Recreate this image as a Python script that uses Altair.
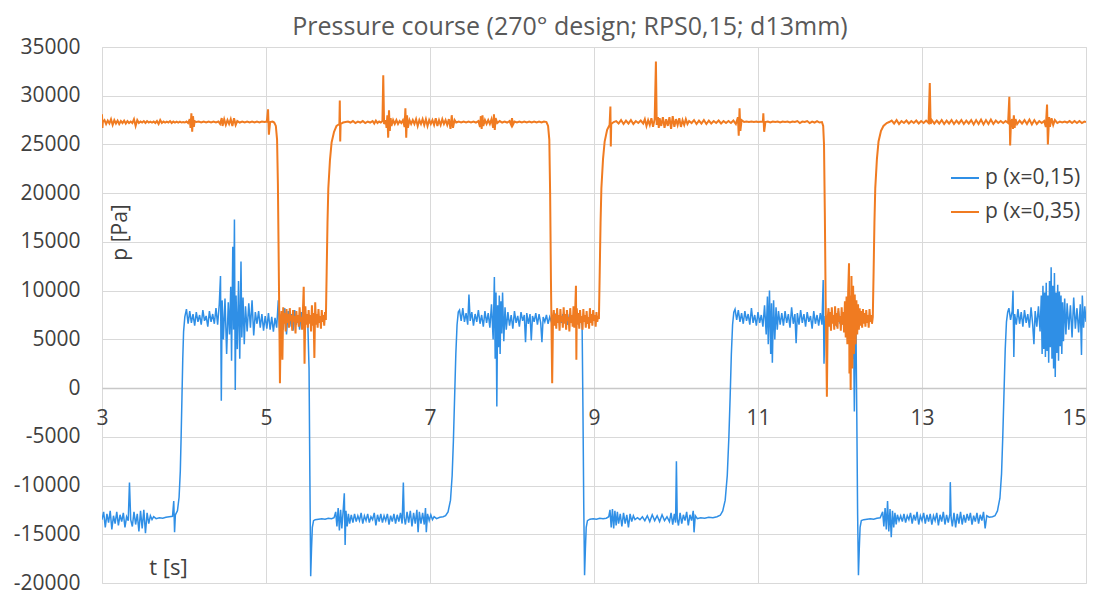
import altair as alt
import pandas as pd

TITLE = "Pressure course (270\u00b0 design; RPS0,15; d13mm)"
series_names = ["p (x=0,15)", "p (x=0,35)"]
series_colors = ["#2f8fe6", "#f07b21"]
x_ticks = [3, 5, 7, 9, 11, 13, 15]
y_ticks = [-20000, -15000, -10000, -5000, 0, 5000, 10000, 15000, 20000, 25000, 30000, 35000]

# ---- p (x=0,15): (t [s], p [Pa]) ----
blue_low_1 = [(3.00,-13500),(3.02,-12700),(3.04,-14300),(3.06,-12900),(3.08,-13800),(3.10,-12600),(3.12,-14500),(3.14,-13100),(3.16,-13900),(3.18,-12700),(3.20,-14100),(3.22,-13000),(3.24,-13700),(3.26,-12800),(3.28,-14300),(3.30,-13200),(3.32,-13600),(3.335,-9700),(3.35,-13500),(3.37,-14200),(3.39,-12700),(3.41,-14000),(3.43,-12900),(3.45,-14700),(3.47,-12600),(3.49,-14400),(3.51,-12500),(3.53,-14900),(3.55,-12800),(3.57,-13900),(3.59,-13100),(3.61,-13500),(3.63,-13200),(3.66,-13400),(3.70,-13300),(3.74,-13350),(3.78,-13250),(3.82,-13200),(3.86,-13150),(3.875,-11600),(3.885,-14800),(3.895,-13000),
              (3.92,-12600),(3.94,-11200),(3.955,-8500),(3.965,-5000),(3.975,-1000),(3.985,3000),(3.995,5800),(4.01,7300),(4.03,8100)]
blue_high_1 = [(4.05,6600),(4.07,7900),(4.09,6700),(4.11,7600),(4.13,6400),(4.15,7800),(4.17,6800),(4.19,7500),(4.21,6500),(4.23,8000),(4.25,6900),(4.27,7400),(4.29,6300),(4.31,7900),(4.33,6800),(4.35,7600),(4.37,6600),(4.39,8200),(4.41,6500),(4.43,8600),(4.445,11500),(4.455,-1300),(4.465,9000),(4.48,5000),(4.50,9200),(4.52,3500),(4.54,8800),(4.555,5500),(4.57,10400),(4.58,2800),(4.595,14500),(4.605,6000),(4.615,17300),(4.625,-200),(4.635,9500),(4.65,4000),(4.665,11000),(4.68,3000),(4.695,13000),(4.705,5200),(4.72,9300),(4.735,4500),(4.75,8400),(4.77,5800),(4.79,8700),(4.81,6200),(4.83,9000),(4.85,5400),(4.87,7800),(4.89,6600),(4.91,7900),(4.93,6200),(4.95,7600),(4.97,5900),(4.99,7400),(5.01,6100),(5.03,7700),(5.05,6000),(5.07,7300),(5.09,5800),(5.11,7200),(5.13,6200),(5.15,9000),(5.17,5200),(5.19,7600),(5.21,6000),(5.23,8200),(5.25,5500),(5.27,7900),(5.29,6300),(5.31,7600),(5.33,5900),(5.35,8000),(5.37,6500),(5.39,7400),(5.41,6000),(5.43,7800),(5.45,6400),(5.47,7200),(5.49,6800),(5.51,6600),
               (5.525,2000),(5.535,-9000),(5.545,-19300),(5.555,-16500),(5.565,-14300),(5.58,-13600),(5.60,-13500)]
blue_low_2 = [(5.64,-13450),(5.68,-13400),(5.72,-13450),(5.76,-13350),(5.80,-13400),(5.83,-13300),(5.85,-12700),(5.865,-14200),(5.88,-12300),(5.895,-14600),(5.91,-12500),(5.925,-14400),(5.94,-12700),(5.955,-10800),(5.965,-16100),(5.975,-12600),(5.99,-14200),(6.005,-12900),(6.02,-13900),(6.04,-13000),(6.06,-13800),(6.08,-12900),(6.10,-13700),(6.12,-13100),(6.14,-13600),(6.16,-12800),(6.18,-13900),(6.20,-13100),(6.22,-13600),(6.24,-12900),(6.26,-13800),(6.28,-13200),(6.30,-13500),(6.32,-12800),(6.34,-14100),(6.36,-13000),(6.38,-13700),(6.40,-12900),(6.42,-13800),(6.44,-13100),(6.46,-13600),(6.48,-12900),(6.50,-14000),(6.52,-13100),(6.54,-13700),(6.56,-12900),(6.58,-13900),(6.60,-13000),(6.62,-13700),(6.64,-12800),(6.66,-13900),(6.675,-9700),(6.685,-13300),(6.70,-14000),(6.72,-12700),(6.74,-13800),(6.76,-12600),(6.78,-14200),(6.80,-12800),(6.82,-13900),(6.84,-12500),(6.855,-14800),(6.87,-12700),(6.89,-13900),(6.91,-12800),(6.93,-14000),(6.945,-12300),(6.955,-14800),(6.97,-12900),(6.99,-13600),(7.01,-13000),(7.03,-13500),(7.05,-13200),(7.08,-13400),(7.12,-13250),(7.16,-13200),(7.19,-13100),
              (7.22,-12700),(7.25,-11500),(7.27,-9000),(7.285,-5500),(7.30,-1000),(7.315,3500),(7.33,6500),(7.345,7800),(7.36,8000)]
blue_high_2 = [(7.38,6900),(7.40,8200),(7.42,6800),(7.44,7700),(7.46,6500),(7.475,9600),(7.49,6900),(7.51,7800),(7.53,6400),(7.55,7600),(7.57,6800),(7.59,8000),(7.61,6600),(7.63,7500),(7.65,6300),(7.67,7900),(7.69,6700),(7.71,7700),(7.73,6200),(7.75,8600),(7.77,5000),(7.785,11400),(7.795,3000),(7.805,9800),(7.815,-1900),(7.825,8500),(7.835,4200),(7.845,9500),(7.855,3500),(7.865,8900),(7.875,5600),(7.885,9800),(7.90,4800),(7.915,8300),(7.93,6000),(7.95,7800),(7.97,6400),(7.99,7500),(8.01,6100),(8.03,7900),(8.05,6700),(8.07,7400),(8.09,6300),(8.11,7800),(8.13,6900),(8.15,7500),(8.165,4700),(8.18,7700),(8.20,6600),(8.22,7600),(8.235,4900),(8.25,7400),(8.27,6800),(8.29,7700),(8.31,6500),(8.33,7600),(8.35,6700),(8.365,4700),(8.38,7300),(8.40,6800),(8.42,7500),(8.44,6600),(8.46,7300),(8.48,6800),(8.50,7400),(8.52,6500),(8.54,7700),(8.56,6900),(8.58,7300),(8.60,6700),(8.62,7600),(8.64,6800),(8.66,7400),(8.68,6500),(8.70,7600),(8.72,6900),(8.74,7300),(8.76,6600),(8.78,7500),(8.80,6800),(8.82,7200),(8.84,6900),(8.855,6500),
               (8.865,-2000),(8.875,-12000),(8.885,-19200),(8.895,-16500),(8.905,-14300),(8.92,-13600),(8.95,-13450)]
blue_low_3 = [(8.99,-13400),(9.03,-13450),(9.07,-13350),(9.11,-13400),(9.15,-13350),(9.18,-13200),(9.195,-12500),(9.21,-14300),(9.225,-12400),(9.24,-14400),(9.255,-12600),(9.27,-14100),(9.285,-12700),(9.30,-13900),(9.32,-12900),(9.34,-14200),(9.36,-12800),(9.38,-13900),(9.40,-13000),(9.42,-14300),(9.44,-12900),(9.46,-13700),(9.48,-13100),(9.50,-13500),(9.53,-13300),(9.56,-13500),(9.59,-13200),(9.62,-13600),(9.65,-13100),(9.68,-13700),(9.71,-13000),(9.74,-13600),(9.77,-13100),(9.80,-13700),(9.83,-13000),(9.86,-13600),(9.89,-13200),(9.92,-13700),(9.94,-12800),(9.96,-14000),(9.98,-12900),(9.995,-13800),(10.005,-7500),(10.015,-13400),(10.03,-14100),(10.05,-12800),(10.07,-13900),(10.09,-13000),(10.11,-13600),(10.13,-12700),(10.15,-14100),(10.17,-13000),(10.19,-13600),(10.21,-12600),(10.22,-14800),(10.235,-13100),(10.26,-13400),(10.30,-13300),(10.35,-13350),(10.40,-13250),(10.45,-13300),(10.50,-13200),(10.54,-13050),
              (10.57,-12600),(10.60,-11500),(10.625,-9000),(10.645,-5000),(10.66,-1000),(10.675,3500),(10.69,6500),(10.705,7800),(10.72,8100)]
blue_high_3 = [(10.74,7000),(10.76,8000),(10.78,6800),(10.80,7700),(10.82,6600),(10.84,7900),(10.86,6900),(10.88,7600),(10.90,6500),(10.92,8200),(10.94,6700),(10.96,7500),(10.98,6400),(11.00,7800),(11.02,6700),(11.04,7500),(11.06,6300),(11.08,8500),(11.10,5500),(11.115,9400),(11.125,4500),(11.14,10000),(11.155,3500),(11.165,8700),(11.175,2600),(11.19,9000),(11.205,5000),(11.22,8300),(11.235,6000),(11.25,7900),(11.27,6500),(11.29,7700),(11.31,6400),(11.33,7900),(11.35,6700),(11.37,7600),(11.39,6200),(11.41,8300),(11.43,6600),(11.45,7600),(11.465,4600),(11.48,7700),(11.50,6500),(11.52,8000),(11.54,6700),(11.56,7600),(11.58,6300),(11.60,7800),(11.62,6800),(11.64,7400),(11.66,6100),(11.68,7900),(11.70,6600),(11.72,7500),(11.74,6400),(11.76,7700),(11.78,6500),(11.795,11100),(11.805,2500),(11.82,7400),(11.84,6600),(11.86,7600),(11.88,6400),(11.90,7800),(11.92,6700),(11.94,7500),(11.96,6300),(11.98,7900),(12.00,6600),(12.02,7400),(12.04,6500),(12.06,7800),(12.08,5800),(12.10,8200),(12.12,4500),(12.14,8800),(12.155,3000),(12.165,6500),(12.175,-2400),(12.185,5000),(12.195,6000),
               (12.205,-3000),(12.215,-13000),(12.225,-19200),(12.235,-16500),(12.245,-14300),(12.26,-13600),(12.29,-13500)]
blue_low_4 = [(12.33,-13450),(12.37,-13400),(12.41,-13450),(12.45,-13350),(12.49,-13300),(12.52,-12700),(12.535,-14200),(12.55,-12300),(12.565,-14500),(12.58,-11600),(12.595,-14700),(12.61,-12400),(12.625,-15300),(12.64,-12600),(12.655,-14300),(12.67,-12800),(12.685,-14000),(12.70,-13000),(12.72,-13600),(12.74,-13100),(12.76,-13700),(12.78,-12900),(12.80,-13800),(12.82,-13100),(12.84,-13500),(12.86,-12800),(12.88,-13900),(12.90,-13000),(12.92,-13600),(12.94,-12700),(12.96,-14000),(12.98,-13100),(13.00,-13600),(13.02,-12800),(13.04,-13900),(13.06,-13000),(13.08,-13700),(13.10,-12900),(13.12,-14000),(13.14,-13100),(13.16,-13600),(13.18,-12800),(13.20,-14100),(13.22,-13000),(13.24,-13700),(13.26,-12700),(13.28,-14000),(13.30,-13000),(13.32,-13800),(13.34,-12900),(13.345,-9650),(13.355,-13300),(13.37,-14200),(13.39,-12800),(13.41,-14300),(13.43,-12900),(13.45,-13900),(13.47,-12700),(13.49,-14000),(13.51,-13000),(13.53,-13800),(13.55,-12900),(13.57,-13600),(13.59,-12800),(13.61,-14000),(13.63,-13100),(13.65,-13700),(13.67,-12800),(13.69,-13900),(13.71,-13000),(13.73,-13600),(13.75,-12700),(13.77,-14400),(13.79,-13100),(13.82,-13250),(13.86,-13200),(13.89,-13100),
              (13.92,-12600),(13.95,-11300),(13.97,-8800),(13.985,-5000),(14.00,-500),(14.015,4000),(14.03,6800),(14.045,7800),(14.06,8200)]
blue_high_4 = [(14.08,7000),(14.10,7900),(14.11,10000),(14.12,3200),(14.13,7600),(14.15,6500),(14.17,8100),(14.19,6600),(14.21,7800),(14.23,6300),(14.25,8000),(14.27,6700),(14.29,7600),(14.31,6200),(14.33,8300),(14.35,6500),(14.365,4500),(14.38,7900),(14.40,6300),(14.42,8400),(14.44,5800),(14.455,9500),(14.465,3500),(14.475,10500),(14.485,4000),(14.495,9800),(14.505,3200),(14.515,10800),(14.525,3800),(14.535,9500),(14.545,2600),(14.555,11000),(14.565,4200),(14.575,12400),(14.585,3000),(14.595,10500),(14.605,2000),(14.615,11800),(14.625,1130),(14.635,9800),(14.645,3600),(14.655,10600),(14.665,2800),(14.675,9900),(14.685,4300),(14.695,9500),(14.705,3500),(14.715,8800),(14.725,4800),(14.74,9200),(14.755,5500),(14.77,8700),(14.79,6000),(14.81,8500),(14.83,5200),(14.85,9300),(14.87,6100),(14.89,8200),(14.91,5700),(14.93,8600),(14.945,3400),(14.955,9500),(14.97,6200),(14.985,8400),(15.00,6800)]

# ---- p (x=0,35): (t [s], p [Pa]) ----
orange_high_1 = [(3.00,28100),(3.005,26700),(3.01,27300),(3.03,27500),(3.05,27100),(3.07,27450),(3.09,27150),(3.11,27600),(3.13,27000),(3.15,27500),(3.17,27150),(3.19,27450),(3.21,27100),(3.23,27400),(3.25,27200),(3.27,27450),(3.29,27150),(3.31,27400),(3.33,27200),(3.35,27350),(3.37,27200),(3.39,27600),(3.41,26900),(3.43,27500),(3.45,27200),(3.47,27350),(3.49,27250),(3.51,27400),(3.53,27200),(3.55,27400),(3.57,27250),(3.59,27350),(3.61,27250),(3.63,27350),(3.65,27200),(3.67,27400),(3.69,27100),(3.71,27500),(3.73,27200),(3.75,27350),(3.77,27250),(3.79,27350),(3.81,27250),(3.83,27400),(3.85,27200),(3.87,27350),(3.89,27250),(3.91,27350),(3.93,27250),(3.95,27350),(3.97,27250),(3.99,27300),(4.01,27250),(4.03,27350),(4.05,27200),(4.07,27600),(4.08,26700),(4.09,28200),(4.10,26300),(4.11,27900),(4.12,26800),(4.13,27400),(4.15,27300),(4.18,27350),(4.21,27250),(4.24,27350),(4.27,27250),(4.30,27350),(4.33,27250),(4.36,27350),(4.39,27250),(4.42,27350),(4.44,27100),(4.46,27700),(4.47,26900),(4.49,27600),(4.51,27000),(4.53,27500),(4.55,27100),(4.57,27600),(4.59,26900),(4.61,27700),(4.63,27000),(4.65,27400),(4.68,27250),(4.71,27350),(4.74,27250),(4.77,27350),(4.80,27250),(4.83,27350),(4.86,27250),(4.89,27350),(4.92,27250),(4.95,27350),(4.98,27300),(5.01,27350),(5.025,28600),(5.035,26000),(5.05,27300),(5.08,27350),(5.10,27250),
                 (5.12,26900),(5.135,25500),(5.145,21000),(5.155,13000),(5.165,5000),(5.17,500),(5.18,6800)]
orange_low_1 = [(5.19,7900),(5.20,2900),(5.21,8300),(5.22,6600),(5.23,7700),(5.24,5800),(5.25,8100),(5.26,6700),(5.27,7600),(5.28,6200),(5.29,8200),(5.30,6900),(5.31,7500),(5.32,5900),(5.33,8000),(5.34,6800),(5.35,7400),(5.36,5600),(5.37,7900),(5.38,6700),(5.39,7500),(5.40,6300),(5.41,8300),(5.42,6800),(5.43,7300),(5.44,6000),(5.45,7900),(5.46,10400),(5.47,2500),(5.48,8400),(5.49,6500),(5.50,7600),(5.51,6200),(5.52,8000),(5.53,6600),(5.54,7500),(5.55,5800),(5.56,8500),(5.57,6400),(5.58,7700),(5.59,3100),(5.60,8800),(5.61,6500),(5.62,7600),(5.63,6200),(5.64,8100),(5.65,6700),(5.66,7400),(5.67,6100),(5.68,8000),(5.69,6800),(5.70,7500),(5.71,6400),(5.72,7800),(5.73,7000),
                (5.74,12000),(5.75,17000),(5.76,20500),(5.78,23400),(5.80,25200),(5.83,26300),(5.86,26900),(5.895,27100),(5.90,29500),(5.905,25300),(5.91,27100),(5.94,27250),(5.97,27300)]
orange_high_2 = [(6.00,27350),(6.03,27250),(6.06,27400),(6.09,27200),(6.12,27350),(6.15,27250),(6.18,27400),(6.21,27200),(6.24,27350),(6.27,27250),(6.30,27400),(6.32,27150),(6.34,27450),(6.36,27200),(6.38,27350),(6.40,27250),(6.42,27400),(6.43,32100),(6.44,27100),(6.46,27500),(6.47,26700),(6.48,28000),(6.49,25700),(6.50,28500),(6.51,26400),(6.52,27700),(6.53,26900),(6.55,27500),(6.57,27100),(6.59,27500),(6.61,27100),(6.63,27400),(6.65,27200),(6.67,27500),(6.69,26800),(6.70,28700),(6.71,25700),(6.72,28000),(6.73,26700),(6.75,27500),(6.77,27100),(6.79,27500),(6.81,27100),(6.83,27600),(6.85,26900),(6.87,27500),(6.89,27100),(6.91,27600),(6.93,27000),(6.95,27600),(6.97,26900),(6.99,27500),(7.01,27100),(7.03,27500),(7.05,27000),(7.07,27700),(7.09,26900),(7.11,27500),(7.13,27000),(7.15,27600),(7.17,27100),(7.19,27500),(7.21,27000),(7.23,27600),(7.25,26600),(7.265,28000),(7.28,26700),(7.30,27500),(7.32,27250),(7.35,27350),(7.38,27250),(7.41,27350),(7.44,27250),(7.47,27350),(7.50,27250),(7.53,27350),(7.56,27250),(7.59,27400),(7.61,26800),(7.62,27900),(7.63,26600),(7.64,28000),(7.65,26900),(7.67,27500),(7.69,27100),(7.71,27500),(7.73,27100),(7.75,27600),(7.77,26700),(7.78,28100),(7.79,26500),(7.80,27700),(7.82,27200),(7.85,27400),(7.88,27250),(7.91,27350),(7.94,27250),(7.97,27400),(7.99,27000),(8.00,27700),(8.01,27000),(8.03,27350),(8.06,27250),(8.09,27350),(8.12,27250),(8.15,27350),(8.18,27250),(8.21,27350),(8.24,27250),(8.27,27350),(8.30,27250),(8.33,27350),(8.36,27250),(8.39,27350),(8.42,27300),
                 (8.44,26900),(8.455,25500),(8.465,20000),(8.475,11000),(8.485,4000),(8.49,500),(8.50,7000)]
orange_low_2 = [(8.51,8000),(8.52,6400),(8.53,7600),(8.54,6100),(8.55,8200),(8.56,6700),(8.57,7500),(8.58,5900),(8.59,8100),(8.60,6800),(8.61,7400),(8.62,6200),(8.63,8300),(8.64,6600),(8.65,7600),(8.66,6000),(8.67,8000),(8.68,6900),(8.69,7300),(8.70,5800),(8.71,8200),(8.72,6700),(8.73,7500),(8.74,6300),(8.75,8400),(8.76,6200),(8.77,7800),(8.78,10500),(8.785,2900),(8.79,8200),(8.80,6500),(8.81,7700),(8.82,6100),(8.83,8000),(8.84,6700),(8.85,7400),(8.86,6000),(8.87,8100),(8.88,6800),(8.89,7500),(8.90,6200),(8.91,7900),(8.92,6600),(8.93,7300),(8.94,6100),(8.95,8200),(8.96,6700),(8.97,7600),(8.98,6400),(8.99,8000),(9.00,6900),(9.01,7500),(9.02,6300),(9.03,7800),(9.04,6800),(9.05,7400),(9.06,7100),
                (9.07,12000),(9.08,17000),(9.09,20500),(9.11,23500),(9.13,25300),(9.16,26500),(9.19,27000),(9.20,28900),(9.205,24800),(9.21,27100),(9.24,27300)]
orange_high_3 = [(9.27,27400),(9.30,27150),(9.33,27500),(9.36,27100),(9.39,27450),(9.42,27150),(9.45,27500),(9.48,27100),(9.51,27400),(9.54,27200),(9.57,27450),(9.60,27150),(9.62,27600),(9.64,26900),(9.66,27500),(9.68,27000),(9.70,27700),(9.72,26800),(9.74,27600),(9.755,33500),(9.765,27000),(9.78,27800),(9.79,26700),(9.80,27700),(9.82,26900),(9.84,27800),(9.86,26700),(9.88,27600),(9.90,26900),(9.92,27800),(9.94,26600),(9.96,27900),(9.98,26800),(10.00,27600),(10.02,27000),(10.04,27700),(10.06,26800),(10.08,27500),(10.10,27000),(10.12,27600),(10.14,27100),(10.16,27400),(10.19,27200),(10.22,27500),(10.25,27100),(10.28,27450),(10.31,27150),(10.34,27500),(10.37,27100),(10.40,27450),(10.43,27150),(10.46,27400),(10.49,27200),(10.52,27450),(10.55,27150),(10.58,27400),(10.61,27200),(10.64,27400),(10.67,27200),(10.70,27450),(10.73,27100),(10.755,27800),(10.765,25900),(10.775,28700),(10.785,26400),(10.80,27500),(10.83,27300),(10.86,27350),(10.89,27300),(10.92,27350),(10.95,27300),(10.98,27350),(11.00,27300),(11.06,27350),(11.065,28200),(11.075,26300),(11.09,27300),(11.12,27350),(11.15,27250),(11.18,27350),(11.21,27300),(11.24,27350),(11.27,27250),(11.30,27350),(11.33,27300),(11.36,27350),(11.39,27250),(11.42,27350),(11.45,27300),(11.48,27400),(11.51,27200),(11.54,27350),(11.57,27300),(11.60,27400),(11.63,27200),(11.66,27350),(11.69,27250),(11.72,27400),(11.75,27250),(11.78,27300),
                 (11.795,26900),(11.805,25000),(11.815,18000),(11.825,9000),(11.835,3000),(11.84,-900),(11.85,7200)]
orange_low_3 = [(11.86,8200),(11.87,6300),(11.88,7800),(11.89,5900),(11.90,8300),(11.91,6600),(11.92,7500),(11.93,6000),(11.94,8400),(11.95,6400),(11.96,7700),(11.97,6100),(11.98,8200),(11.99,6800),(12.00,7400),(12.01,5900),(12.02,8300),(12.03,6500),(12.04,7800),(12.05,5700),(12.06,8900),(12.07,5200),(12.08,9400),(12.09,4500),(12.10,10000),(12.11,12800),(12.115,1500),(12.12,9500),(12.13,-200),(12.14,11500),(12.15,2000),(12.16,10500),(12.17,3500),(12.18,9600),(12.19,4500),(12.20,9000),(12.21,5500),(12.22,8600),(12.23,6000),(12.24,8200),(12.25,6400),(12.26,7900),(12.27,6200),(12.28,8100),(12.29,6600),(12.30,7700),(12.31,6300),(12.32,8000),(12.33,6700),(12.34,7500),(12.35,6200),(12.36,8100),(12.37,6800),(12.38,7500),(12.39,6600),(12.40,7300),
                (12.41,12000),(12.42,17000),(12.43,20500),(12.45,23500),(12.47,25300),(12.50,26400),(12.53,26900),(12.57,27200),(12.60,27300)]
orange_high_4 = [(12.63,27450),(12.66,27150),(12.69,27500),(12.72,27100),(12.75,27400),(12.78,27200),(12.81,27450),(12.84,27150),(12.87,27400),(12.90,27200),(12.93,27450),(12.96,27150),(12.99,27400),(13.02,27200),(13.05,27450),(13.08,27200),(13.095,31300),(13.105,27100),(13.12,27500),(13.15,27150),(13.18,27450),(13.21,27150),(13.24,27500),(13.27,27100),(13.30,27450),(13.33,27150),(13.36,27500),(13.39,27100),(13.42,27450),(13.45,27150),(13.48,27500),(13.51,27100),(13.54,27450),(13.57,27150),(13.60,27500),(13.63,27050),(13.66,27500),(13.69,27100),(13.72,27550),(13.75,27050),(13.78,27500),(13.81,27100),(13.84,27550),(13.87,27100),(13.90,27450),(13.93,27200),(13.96,27400),(13.99,27200),(14.02,27400),(14.05,27200),(14.065,29900),(14.075,24900),(14.085,27300),(14.10,27600),(14.11,26600),(14.12,28000),(14.13,26700),(14.14,27600),(14.16,27100),(14.19,27450),(14.22,27150),(14.25,27500),(14.28,27100),(14.31,27550),(14.34,27050),(14.37,27500),(14.40,27100),(14.43,27400),(14.46,27200),(14.49,27400),(14.51,26800),(14.525,29100),(14.535,25000),(14.55,27800),(14.56,26800),(14.58,27700),(14.60,27000),(14.62,27500),(14.65,27200),(14.68,27350),(14.71,27250),(14.74,27350),(14.77,27250),(14.80,27400),(14.83,27200),(14.86,27400),(14.89,27200),(14.92,27400),(14.95,27200),(14.98,27350),(15.00,27300)]

blue_segments = [blue_low_1, blue_high_1, blue_low_2, blue_high_2, blue_low_3, blue_high_3, blue_low_4, blue_high_4]
orange_segments = [orange_high_1, orange_low_1, orange_high_2, orange_low_2, orange_high_3, orange_low_3, orange_high_4]

rows = []
for name, segs in ((series_names[0], blue_segments), (series_names[1], orange_segments)):
    for seg in segs:
        for t, p in seg:
            rows.append({"t": t, "p": p, "series": name})
df = pd.DataFrame(rows)

FONT = "Open Sans"
TXT = "#404040"
GRID = "#d9d9d9"

x_enc = alt.X(
    "t:Q",
    scale=alt.Scale(domain=[3, 15], nice=False, zero=False),
    axis=alt.Axis(
        values=x_ticks,
        # the last label is right-aligned so it stays inside the page
        labelAlign={"condition": {"test": "datum.value == 15", "value": "right"}, "value": "center"},
        title="t [s]", grid=True, gridColor=GRID, gridWidth=1,
        ticks=False, domain=True, domainColor="#c8c8c8", domainWidth=1.5,
        offset=-195, labelPadding=19, labelFontSize=21, labelColor=TXT, labelFont=FONT,
        labelFlush=False, labelOverlap=False,
        titleFontSize=22, titleFont=FONT, titleColor=TXT, titleFontWeight="normal",
        titleX=66, titleY=179, titleAlign="center", titleBaseline="middle",
    ),
)
y_enc = alt.Y(
    "p:Q",
    scale=alt.Scale(domain=[-20000, 35000], nice=False, zero=False),
    axis=alt.Axis(
        values=y_ticks, labelExpr="datum.value + ''", title="p [Pa]", grid=True,
        gridColor=GRID, gridWidth=1,
        ticks=False, domain=False, labelPadding=22, labelFontSize=21, labelColor=TXT,
        labelFont=FONT, labelFlush=False, labelOverlap=False,
        titleFontSize=21, titleFont=FONT, titleColor=TXT, titleFontWeight="normal",
        titleX=18, titleY=185, titleAlign="center", titleBaseline="middle", titleAngle=270,
    ),
)
color_enc = alt.Color(
    "series:N",
    scale=alt.Scale(domain=series_names, range=series_colors),
    legend=alt.Legend(
        title=None, orient="none", legendX=848, legendY=116, symbolType="stroke",
        symbolSize=784, symbolStrokeWidth=2, labelFontSize=21, labelFont=FONT,
        labelColor=TXT, labelOffset=5, rowPadding=9, padding=0,
    ),
)

base = alt.Chart(df).encode(x=x_enc, y=y_enc, color=color_enc)
blue_line = base.transform_filter(alt.datum.series == series_names[0]).mark_line(strokeWidth=1.5, clip=True)
orange_line = base.transform_filter(alt.datum.series == series_names[1]).mark_line(strokeWidth=2, clip=True)

chart = alt.layer(blue_line, orange_line).properties(
    width=984,
    height=536,
    title=alt.TitleParams(
        TITLE, fontSize=25, font=FONT, color="#595959", fontWeight="normal",
        anchor="middle", frame="group", dx=-24, offset=-4,
    ),
    autosize=alt.AutoSizeParams(type="none"),
    padding={"left": 94, "top": 39, "right": 5, "bottom": 12},
).configure_view(strokeWidth=0).configure(background="white")

chart.save("out.html", embed_options={"renderer": "svg", "actions": False})
